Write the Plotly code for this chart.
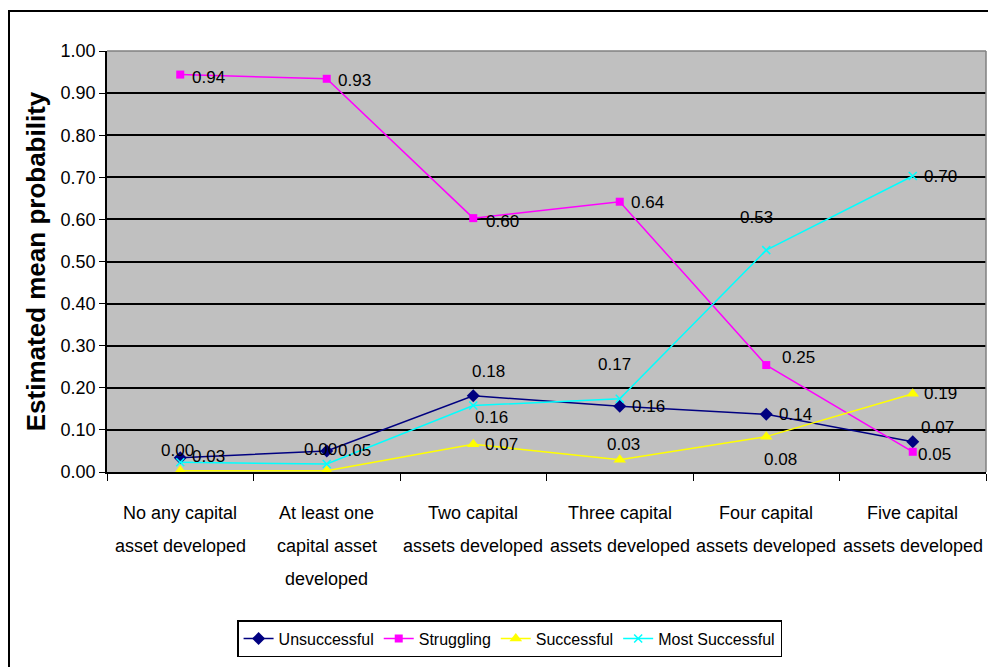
import plotly.graph_objects as go

# Categories (number of capital assets developed); "\n" marks a line break
categories = [
    "No any capital\nasset developed",
    "At least one\ncapital asset\ndeveloped",
    "Two capital\nassets developed",
    "Three capital\nassets developed",
    "Four capital\nassets developed",
    "Five capital\nassets developed",
]

# Estimated mean probability per outcome group
unsuccessful = [0.034, 0.050, 0.181, 0.156, 0.137, 0.072]
struggling = [0.944, 0.934, 0.603, 0.642, 0.254, 0.048]
successful = [0.003, 0.003, 0.066, 0.029, 0.084, 0.186]
most_successful = [0.023, 0.019, 0.158, 0.174, 0.527, 0.703]

y_ticks = [0.0, 0.1, 0.2, 0.3, 0.4, 0.5, 0.6, 0.7, 0.8, 0.9, 1.0]

FONT = "Liberation Sans, Arial, sans-serif"
LBL_SIZE = 17

series = [
    dict(name="Unsuccessful", y=unsuccessful, color="#000080",
         marker=dict(symbol="diamond", size=10, color="#000080")),
    dict(name="Struggling", y=struggling, color="#FF00FF",
         marker=dict(symbol="square", size=8, color="#FF00FF")),
    dict(name="Successful", y=successful, color="#FFFF00",
         marker=dict(symbol="triangle-up", size=11, color="#FFFF00")),
    dict(name="Most Successful", y=most_successful, color="#00FFFF",
         marker=dict(symbol="x-thin", size=8, color="#00FFFF",
                     line=dict(width=1.5, color="#00FFFF"))),
]

# Data-label offsets in pixels (dx, dy up); None = no label shown
label_offsets = {
    "Unsuccessful": [(28, 1), (28, 0), (15, 24), (29, 0), (29, 0), (25, 14)],
    "Struggling": [(28, -3), (28, -2), (29, -3), (28, -1), (32, 8), (22, -3)],
    "Successful": [(-3, 20), (-6, 21), (28, 0), (4, 15), (14, -23), (28, 0)],
    "Most Successful": [None, None, (18, -12), (-5, 34), (-10, 33), (28, 0)],
}

fig = go.Figure()
annotations = []
for s in series:
    fig.add_trace(go.Scatter(
        x=categories, y=s["y"], name=s["name"], mode="lines+markers",
        line=dict(color=s["color"], width=1.5),
        marker=s["marker"],
    ))
    for cat, val, off in zip(categories, s["y"], label_offsets[s["name"]]):
        if off is None:
            continue
        annotations.append(dict(
            x=cat, y=val, xref="x", yref="y", text=f"{val:.2f}",
            showarrow=False, xshift=off[0], yshift=off[1],
            font=dict(family=FONT, size=LBL_SIZE, color="black"),
        ))

# Category labels under the axis, one line at a time (wide line spacing)
FIRST_LINE, LINE_GAP = 41, 33
for cat in categories:
    for i, line in enumerate(cat.split("\n")):
        annotations.append(dict(
            x=cat, y=0, xref="x", yref="paper", text=line,
            showarrow=False, yanchor="middle", xanchor="center",
            yshift=-(FIRST_LINE + LINE_GAP * i),
            font=dict(family=FONT, size=18, color="black"),
        ))

L, R, T, B = 107, 2, 51, 195
W, H = 988, 667
pw, ph = W - L - R, H - T - B

# outer chart frame (extends past the right and bottom edges)
shapes = [
    dict(type="rect", xref="paper", yref="paper",
         x0=(9 - L) / pw, x1=1.2, y0=-1.0, y1=(H - B - 11) / ph,
         line=dict(color="black", width=2), fillcolor="rgba(0,0,0,0)",
         layer="below"),
    # right and top edges of the plot area
    dict(type="line", xref="paper", yref="paper", x0=1, x1=1, y0=0, y1=1,
         line=dict(color="#808080", width=1.5)),
    dict(type="line", xref="paper", yref="paper", x0=0, x1=1, y0=1, y1=1,
         line=dict(color="#808080", width=1.5)),
]

fig.update_layout(
    width=W, height=H,
    margin=dict(l=L, r=R, t=T, b=B, pad=0),
    paper_bgcolor="white",
    plot_bgcolor="#C0C0C0",
    font=dict(family=FONT, size=LBL_SIZE, color="black"),
    showlegend=True,
    legend=dict(
        orientation="h", x=0.458, xanchor="center", y=-0.352, yanchor="top",
        bordercolor="black", borderwidth=1.5, bgcolor="white",
        font=dict(family=FONT, size=16, color="black"),
        tracegroupgap=0, itemwidth=30,
    ),
    annotations=annotations,
    shapes=shapes,
)

fig.update_xaxes(
    type="category", tickson="boundaries", ticks="outside", ticklen=7,
    tickcolor="black", showline=True, linecolor="black", linewidth=1.5,
    showgrid=False, zeroline=False, showticklabels=False, automargin=False,
    range=[-0.5, 5.5],
)
fig.update_yaxes(
    range=[0, 1.0], tickvals=y_ticks, tickformat=".2f",
    ticks="outside", ticklen=6, tickcolor="black", automargin=False,
    showline=True, linecolor="black", linewidth=1.5,
    showgrid=True, gridcolor="black", gridwidth=1.5, zeroline=False,
    tickfont=dict(family=FONT, size=18, color="black"),
    title=dict(text="<b>Estimated mean probability</b>", standoff=8,
               font=dict(family=FONT, size=26, color="black")),
)

fig.write_html("out.html")
